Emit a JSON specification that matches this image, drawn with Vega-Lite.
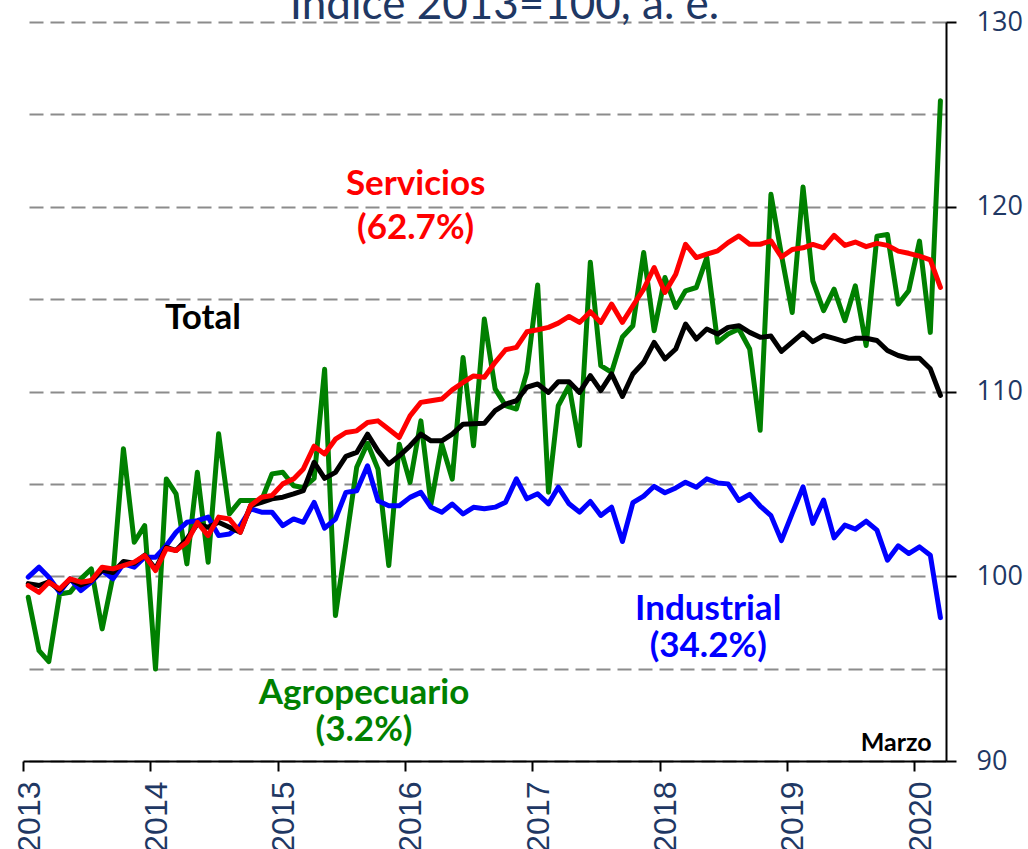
{
  "$schema": "https://vega.github.io/schema/vega-lite/v6.json",
  "width": 923,
  "height": 739,
  "autosize": {"type": "none"},
  "padding": {"left": 23, "top": 22, "right": 82, "bottom": 88},
  "background": "white",
  "config": {"view": {"stroke": null}},
  "title": {
    "text": "Índice 2013=100, a. e.",
    "font": "Lato",
    "fontSize": 44,
    "fontWeight": "normal",
    "color": "#1F3864",
    "anchor": "middle",
    "frame": "group",
    "offset": 0,
    "dx": 20,
    "dy": 20
  },
  "data": {"values": [
    {"d": "2013-01-16", "agro": 98.86, "ind": 99.95, "serv": 99.49, "total": 99.6},
    {"d": "2013-02-16", "agro": 95.97, "ind": 100.49, "serv": 99.13, "total": 99.5},
    {"d": "2013-03-16", "agro": 95.38, "ind": 99.95, "serv": 99.68, "total": 99.7},
    {"d": "2013-04-16", "agro": 99.04, "ind": 99.13, "serv": 99.31, "total": 99.25},
    {"d": "2013-05-16", "agro": 99.13, "ind": 99.86, "serv": 99.86, "total": 99.84},
    {"d": "2013-06-16", "agro": 99.86, "ind": 99.22, "serv": 99.68, "total": 99.53},
    {"d": "2013-07-16", "agro": 100.4, "ind": 99.68, "serv": 99.77, "total": 99.76},
    {"d": "2013-08-16", "agro": 97.15, "ind": 100.31, "serv": 100.49, "total": 100.33},
    {"d": "2013-09-16", "agro": 100.0, "ind": 99.86, "serv": 100.4, "total": 100.2},
    {"d": "2013-10-16", "agro": 106.9, "ind": 100.67, "serv": 100.58, "total": 100.8},
    {"d": "2013-11-16", "agro": 101.84, "ind": 100.49, "serv": 100.76, "total": 100.7},
    {"d": "2013-12-16", "agro": 102.74, "ind": 101.03, "serv": 101.12, "total": 101.14},
    {"d": "2014-01-16", "agro": 94.98, "ind": 101.03, "serv": 100.31, "total": 100.4},
    {"d": "2014-02-16", "agro": 105.27, "ind": 101.66, "serv": 101.5, "total": 101.57},
    {"d": "2014-03-16", "agro": 104.46, "ind": 102.38, "serv": 101.39, "total": 101.39},
    {"d": "2014-04-16", "agro": 100.67, "ind": 102.92, "serv": 101.84, "total": 102.02},
    {"d": "2014-05-16", "agro": 105.63, "ind": 103.01, "serv": 102.92, "total": 102.83},
    {"d": "2014-06-16", "agro": 100.76, "ind": 103.2, "serv": 102.2, "total": 102.65},
    {"d": "2014-07-16", "agro": 107.71, "ind": 102.2, "serv": 103.2, "total": 102.92},
    {"d": "2014-08-16", "agro": 103.38, "ind": 102.29, "serv": 103.1, "total": 102.65},
    {"d": "2014-09-16", "agro": 104.1, "ind": 102.74, "serv": 102.38, "total": 102.38},
    {"d": "2014-10-16", "agro": 104.1, "ind": 103.65, "serv": 103.83, "total": 103.83},
    {"d": "2014-11-16", "agro": 104.1, "ind": 103.47, "serv": 104.28, "total": 104.0},
    {"d": "2014-12-16", "agro": 105.54, "ind": 103.47, "serv": 104.37, "total": 104.19},
    {"d": "2015-01-16", "agro": 105.63, "ind": 102.74, "serv": 105.0, "total": 104.28},
    {"d": "2015-02-16", "agro": 104.9, "ind": 103.1, "serv": 105.27, "total": 104.46},
    {"d": "2015-03-16", "agro": 104.8, "ind": 102.92, "serv": 105.81, "total": 104.64},
    {"d": "2015-04-16", "agro": 105.3, "ind": 104.0, "serv": 107.04, "total": 106.17},
    {"d": "2015-05-16", "agro": 111.2, "ind": 102.6, "serv": 106.62, "total": 105.3},
    {"d": "2015-06-16", "agro": 97.87, "ind": 103.1, "serv": 107.42, "total": 105.62},
    {"d": "2015-07-16", "agro": 101.8, "ind": 104.54, "serv": 107.78, "total": 106.49},
    {"d": "2015-08-16", "agro": 105.9, "ind": 104.63, "serv": 107.87, "total": 106.7},
    {"d": "2015-09-16", "agro": 107.2, "ind": 105.98, "serv": 108.32, "total": 107.69},
    {"d": "2015-10-16", "agro": 105.8, "ind": 104.09, "serv": 108.41, "total": 106.79},
    {"d": "2015-11-16", "agro": 100.58, "ind": 103.82, "serv": 107.96, "total": 106.07},
    {"d": "2015-12-16", "agro": 107.15, "ind": 103.82, "serv": 107.51, "total": 106.52},
    {"d": "2016-01-16", "agro": 105.08, "ind": 104.27, "serv": 108.68, "total": 107.06},
    {"d": "2016-02-16", "agro": 108.41, "ind": 104.54, "serv": 109.41, "total": 107.69},
    {"d": "2016-03-16", "agro": 103.91, "ind": 103.73, "serv": 109.5, "total": 107.33},
    {"d": "2016-04-16", "agro": 107.15, "ind": 103.46, "serv": 109.59, "total": 107.33},
    {"d": "2016-05-16", "agro": 105.26, "ind": 103.91, "serv": 110.09, "total": 107.69},
    {"d": "2016-06-16", "agro": 111.84, "ind": 103.37, "serv": 110.49, "total": 108.23},
    {"d": "2016-07-16", "agro": 107.06, "ind": 103.73, "serv": 110.84, "total": 108.25},
    {"d": "2016-08-16", "agro": 113.92, "ind": 103.65, "serv": 110.77, "total": 108.28},
    {"d": "2016-09-16", "agro": 110.14, "ind": 103.74, "serv": 111.58, "total": 108.96},
    {"d": "2016-10-16", "agro": 109.23, "ind": 104.01, "serv": 112.26, "total": 109.32},
    {"d": "2016-11-16", "agro": 109.05, "ind": 105.27, "serv": 112.39, "total": 109.5},
    {"d": "2016-12-16", "agro": 111.04, "ind": 104.19, "serv": 113.23, "total": 110.23},
    {"d": "2017-01-16", "agro": 115.76, "ind": 104.46, "serv": 113.34, "total": 110.41},
    {"d": "2017-02-16", "agro": 104.55, "ind": 103.92, "serv": 113.47, "total": 109.95},
    {"d": "2017-03-16", "agro": 109.23, "ind": 104.82, "serv": 113.7, "total": 110.53},
    {"d": "2017-04-16", "agro": 110.32, "ind": 103.92, "serv": 114.06, "total": 110.53},
    {"d": "2017-05-16", "agro": 107.07, "ind": 103.47, "serv": 113.74, "total": 109.95},
    {"d": "2017-06-16", "agro": 117.0, "ind": 104.05, "serv": 114.32, "total": 110.86},
    {"d": "2017-07-16", "agro": 111.4, "ind": 103.29, "serv": 113.74, "total": 110.05},
    {"d": "2017-08-16", "agro": 111.04, "ind": 103.74, "serv": 114.73, "total": 110.95},
    {"d": "2017-09-16", "agro": 112.95, "ind": 101.88, "serv": 113.74, "total": 109.73},
    {"d": "2017-10-16", "agro": 113.56, "ind": 103.98, "serv": 114.64, "total": 110.95},
    {"d": "2017-11-16", "agro": 117.52, "ind": 104.34, "serv": 115.54, "total": 111.58},
    {"d": "2017-12-16", "agro": 113.29, "ind": 104.87, "serv": 116.71, "total": 112.66},
    {"d": "2018-01-16", "agro": 116.17, "ind": 104.52, "serv": 115.36, "total": 111.76},
    {"d": "2018-02-16", "agro": 114.55, "ind": 104.78, "serv": 116.35, "total": 112.3},
    {"d": "2018-03-16", "agro": 115.45, "ind": 105.09, "serv": 117.97, "total": 113.65},
    {"d": "2018-04-16", "agro": 115.63, "ind": 104.82, "serv": 117.25, "total": 112.84},
    {"d": "2018-05-16", "agro": 117.25, "ind": 105.27, "serv": 117.43, "total": 113.38},
    {"d": "2018-06-16", "agro": 112.66, "ind": 105.05, "serv": 117.61, "total": 113.11},
    {"d": "2018-07-16", "agro": 113.11, "ind": 105.0, "serv": 118.06, "total": 113.47},
    {"d": "2018-08-16", "agro": 113.38, "ind": 104.1, "serv": 118.42, "total": 113.56},
    {"d": "2018-09-16", "agro": 112.3, "ind": 104.43, "serv": 117.97, "total": 113.2},
    {"d": "2018-10-16", "agro": 107.9, "ind": 103.8, "serv": 117.97, "total": 112.93},
    {"d": "2018-11-16", "agro": 120.67, "ind": 103.28, "serv": 118.15, "total": 113.0},
    {"d": "2018-12-16", "agro": 117.4, "ind": 101.93, "serv": 117.28, "total": 112.17},
    {"d": "2019-01-16", "agro": 114.28, "ind": 103.4, "serv": 117.69, "total": 112.67},
    {"d": "2019-02-16", "agro": 121.07, "ind": 104.84, "serv": 117.78, "total": 113.17},
    {"d": "2019-03-16", "agro": 115.99, "ind": 102.86, "serv": 117.96, "total": 112.7},
    {"d": "2019-04-16", "agro": 114.37, "ind": 104.12, "serv": 117.78, "total": 113.03},
    {"d": "2019-05-16", "agro": 115.54, "ind": 102.08, "serv": 118.45, "total": 112.88},
    {"d": "2019-06-16", "agro": 113.83, "ind": 102.77, "serv": 117.91, "total": 112.7},
    {"d": "2019-07-16", "agro": 115.72, "ind": 102.55, "serv": 118.09, "total": 112.88},
    {"d": "2019-08-16", "agro": 112.49, "ind": 102.98, "serv": 117.84, "total": 112.88},
    {"d": "2019-09-16", "agro": 118.41, "ind": 102.5, "serv": 118.02, "total": 112.76},
    {"d": "2019-10-16", "agro": 118.5, "ind": 100.87, "serv": 117.91, "total": 112.22},
    {"d": "2019-11-16", "agro": 114.73, "ind": 101.65, "serv": 117.6, "total": 111.95},
    {"d": "2019-12-16", "agro": 115.45, "ind": 101.23, "serv": 117.48, "total": 111.8},
    {"d": "2020-01-16", "agro": 118.14, "ind": 101.59, "serv": 117.33, "total": 111.8},
    {"d": "2020-02-16", "agro": 113.2, "ind": 101.14, "serv": 117.12, "total": 111.23},
    {"d": "2020-03-16", "agro": 125.74, "ind": 97.76, "serv": 115.63, "total": 109.79}
  ]},
  "encoding": {
    "x": {
      "field": "d",
      "type": "temporal",
      "scale": {
        "type": "utc",
        "domain": [
          {"year": 2013, "month": 1, "date": 1, "utc": true},
          {"year": 2020, "month": 4, "date": 1, "utc": true}
        ]
      },
      "axis": {
        "orient": "bottom",
        "title": null,
        "grid": false,
        "tickCount": {"interval": "year", "step": 1},
        "format": "%Y",
        "formatType": "utc",
        "labelAngle": -90,
        "labelFont": "Liberation Sans",
        "labelFontSize": 32,
        "labelColor": "#1F3864",
        "labelPadding": 10,
        "labelOffset": 6,
        "labelOverlap": false,
        "labelFlush": false,
        "labelBound": false,
        "domainColor": "#000000",
        "domainWidth": 2,
        "tickColor": "#000000",
        "tickWidth": 2,
        "tickSize": 10
      }
    },
    "y": {
      "field": "value",
      "type": "quantitative",
      "scale": {"domain": [90, 130], "nice": false, "zero": false},
      "axis": {
        "orient": "right",
        "title": null,
        "values": [90, 95, 100, 105, 110, 115, 120, 125, 130],
        "grid": true,
        "gridColor": "#8c8c8c",
        "gridDash": [14, 7],
        "gridWidth": 2,
        "domainColor": "#000000",
        "domainWidth": 2,
        "tickSize": 10,
        "tickWidth": 2,
        "tickColor": "#000000",
        "tickOpacity": {"condition": {"test": "datum.value % 10 === 0", "value": 1}, "value": 0},
        "labelExpr": "datum.value % 10 === 0 ? datum.label : ''",
        "labelFont": "Open Sans",
        "labelFontSize": 27,
        "labelColor": "#1F3864",
        "labelPadding": 20,
        "labelOverlap": false,
        "labelFlush": false,
        "labelBound": false
      }
    }
  },
  "layer": [
    {
      "transform": [{"fold": ["agro"], "as": ["s", "value"]}],
      "mark": {"type": "line", "color": "#008000", "strokeWidth": 5, "strokeJoin": "round", "strokeCap": "round"}
    },
    {
      "transform": [{"fold": ["ind"], "as": ["s", "value"]}],
      "mark": {"type": "line", "color": "#0000FF", "strokeWidth": 5, "strokeJoin": "round", "strokeCap": "round"}
    },
    {
      "transform": [{"fold": ["total"], "as": ["s", "value"]}],
      "mark": {"type": "line", "color": "#000000", "strokeWidth": 5, "strokeJoin": "round", "strokeCap": "round"}
    },
    {
      "transform": [{"fold": ["serv"], "as": ["s", "value"]}],
      "mark": {"type": "line", "color": "#FF0000", "strokeWidth": 5, "strokeJoin": "round", "strokeCap": "round"}
    },
    {
      "data": {"values": [
        {"d": "2016-02-01", "value": 121.22, "label": "Servicios", "s": "serv"},
        {"d": "2016-02-01", "value": 118.83, "label": "(62.7%)", "s": "serv"},
        {"d": "2014-06-01", "value": 113.96, "label": "Total", "s": "total"},
        {"d": "2018-05-20", "value": 98.24, "label": "Industrial", "s": "ind"},
        {"d": "2018-05-20", "value": 96.23, "label": "(34.2%)", "s": "ind"},
        {"d": "2015-09-06", "value": 93.69, "label": "Agropecuario", "s": "agro"},
        {"d": "2015-09-06", "value": 91.68, "label": "(3.2%)", "s": "agro"}
      ]},
      "mark": {"type": "text", "font": "Lato", "fontWeight": "bold", "fontSize": 35, "align": "center", "baseline": "middle"},
      "encoding": {
        "text": {"field": "label"},
        "color": {
          "field": "s",
          "type": "nominal",
          "legend": null,
          "scale": {"domain": ["agro", "ind", "serv", "total"], "range": ["#008000", "#0000FF", "#FF0000", "#000000"]}
        }
      }
    },
    {
      "data": {"values": [
        {"d": "2019-11-10", "value": 90.98, "label": "Marzo"}
      ]},
      "mark": {"type": "text", "font": "Lato", "fontWeight": "bold", "fontSize": 25, "color": "#000000", "align": "center", "baseline": "middle"},
      "encoding": {
        "text": {"field": "label"}
      }
    }
  ]
}
